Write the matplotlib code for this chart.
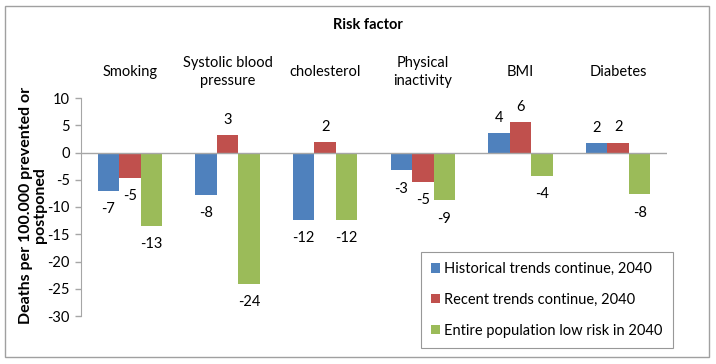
import numpy as np
import matplotlib
matplotlib.use('Agg')
import matplotlib.pyplot as plt
from matplotlib.patches import Rectangle

plt.rcParams['font.family'] = ['Lato', 'DejaVu Sans']

# data
categories = ['Smoking', 'Systolic blood\npressure', 'cholesterol',
              'Physical\ninactivity', 'BMI', 'Diabetes']
series_names = ['Historical trends continue, 2040',
                'Recent trends continue, 2040',
                'Entire population low risk in 2040']
historical = [-7.0, -7.8, -12.4, -3.3, 3.6, 1.7]
recent = [-4.7, 3.2, 1.9, -5.4, 5.6, 1.8]
low_risk = [-13.4, -24.2, -12.3, -8.8, -4.3, -7.7]
yticks = [10, 5, 0, -5, -10, -15, -20, -25, -30]

colors = ['#4F81BD', '#C0504D', '#9BBB59']
W, H = 716, 364

fig = plt.figure(figsize=(W / 100, H / 100), dpi=100)
ax = fig.add_axes([81 / W, 1 - 316 / H, (667 - 81) / W, (316 - 98) / H])

x = np.arange(len(categories))
width = 0.22
for i, (vals, name) in enumerate(zip([historical, recent, low_risk], series_names)):
    pos = x + (i - 1) * width
    ax.bar(pos, vals, width, color=colors[i], label=name, zorder=2)
    for px, v in zip(pos, vals):
        off = 11 if v > 0 else -13
        ax.annotate('%.0f' % v, (px, v), xytext=(0, off), textcoords='offset points',
                    ha='center', va='center', fontsize=10.5, color='black')

ax.set_xlim(-0.5, len(categories) - 0.5)
ax.set_ylim(-30, 10)
ax.set_yticks(yticks)
ax.set_yticklabels([str(t) for t in yticks], fontsize=10.5)
ax.axhline(0, color='#A6A6A6', lw=1, zorder=3)

ax.xaxis.tick_top()
ax.set_xticks(x)
ax.set_xticklabels(categories, fontsize=10.5, va='center', linespacing=1.35)
ax.tick_params(axis='x', length=0, pad=19)
ax.tick_params(axis='y', direction='out', length=4, color='#A6A6A6', width=1, pad=4)

for s in ['top', 'right', 'bottom']:
    ax.spines[s].set_visible(False)
ax.spines['left'].set_color('#A6A6A6')

fig.text(368 / W, 1 - 25 / H, 'Risk factor', ha='center', va='center',
         fontsize=10.5, fontweight='bold')
fig.text(33 / W, 1 - 205 / H, 'Deaths per 100.000 prevented or\npostponed', rotation=90,
         ha='center', va='center', fontsize=11.5, fontweight='bold', linespacing=1.05)

leg = ax.legend(loc='upper left', bbox_to_anchor=(421 / W, 1 - 252 / H),
                bbox_transform=fig.transFigure, borderaxespad=0, fontsize=10.5,
                fancybox=False, frameon=True, handlelength=0.6, handleheight=0.6,
                handletextpad=0.3, labelspacing=1.15, borderpad=0.7)
leg.get_frame().set_edgecolor('#7F7F7F')
leg.get_frame().set_linewidth(0.8)

fig.patches.append(Rectangle((5 / W, 1 - 357 / H), (709 - 5) / W, (357 - 6) / H,
                             transform=fig.transFigure, fill=False,
                             edgecolor='#A0A0A0', lw=1))

fig.savefig('out.png', dpi=100)
